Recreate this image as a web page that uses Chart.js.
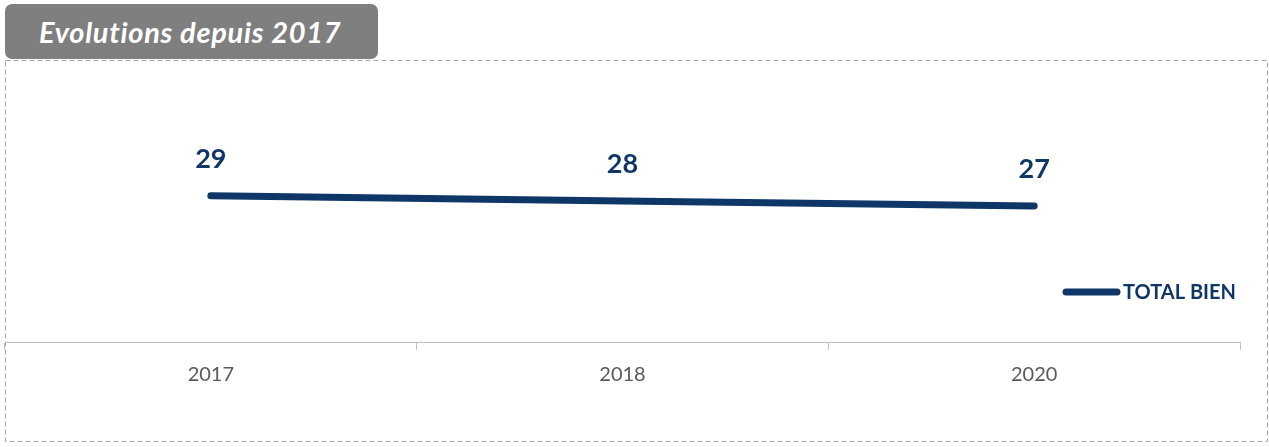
<!DOCTYPE html>
<html>
<head>
<meta charset="utf-8">
<script src="https://cdn.jsdelivr.net/npm/chart.js@4/dist/chart.umd.min.js"></script>
<style>
  html, body { margin: 0; padding: 0; background: #fff; }
  body { width: 1269px; height: 447px; position: relative; overflow: hidden; font-family: Lato, "Open Sans", sans-serif; }
  .title {
    position: absolute; left: 5px; top: 4px; width: 373px; height: 55px;
    background: #7f7f7f; border-radius: 7px; color: #fff; z-index: 2;
    font: italic bold 29px Lato, sans-serif; letter-spacing: 0.7px; line-height: 55px; padding-left: 34px; box-sizing: border-box;
  }
  #chart { position: absolute; left: 0; top: 0; }
</style>
</head>
<body>
<div class="title">Evolutions depuis 2017</div>
<canvas id="chart" width="1269" height="447"></canvas>
<script>
const years = ['2017', '2018', '2020'];
const totalBien = [29, 28, 27];
const seriesName = 'TOTAL BIEN';

const navy = '#0e3767';

// dashed frame round the whole chart
const frame = {
  id: 'frame',
  beforeDraw(chart) {
    const ctx = chart.ctx;
    ctx.save();
    ctx.strokeStyle = '#a6a6a6';
    ctx.lineWidth = 1;
    ctx.setLineDash([5, 3]);
    ctx.strokeRect(5.5, 60.5, 1262, 381);
    ctx.restore();
  }
};

// value labels above each point
const valueLabels = {
  id: 'valueLabels',
  afterDatasetsDraw(chart) {
    const ctx = chart.ctx;
    const meta = chart.getDatasetMeta(0);
    ctx.save();
    ctx.fillStyle = navy;
    ctx.font = 'bold 27px Lato, sans-serif';
    ctx.textAlign = 'center';
    ctx.textBaseline = 'middle';
    meta.data.forEach((pt, i) => {
      ctx.fillText(chart.data.datasets[0].data[i], pt.x, pt.y - 37);
    });
    ctx.restore();
  }
};

// legend drawn inside the plot like the original
const lineLegend = {
  id: 'lineLegend',
  afterDraw(chart) {
    const ctx = chart.ctx;
    const ds = chart.data.datasets[0];
    ctx.save();
    ctx.strokeStyle = ds.borderColor;
    ctx.lineWidth = 7;
    ctx.lineCap = 'round';
    ctx.beginPath();
    ctx.moveTo(1066, 292);
    ctx.lineTo(1117, 292);
    ctx.stroke();
    ctx.fillStyle = navy;
    ctx.font = 'bold 20px Lato, sans-serif';
    ctx.textBaseline = 'middle';
    ctx.fillText(ds.label, 1123, 293);
    ctx.restore();
  }
};

new Chart(document.getElementById('chart'), {
  type: 'line',
  data: {
    labels: years,
    datasets: [{
      label: seriesName,
      data: totalBien,
      borderColor: navy,
      borderWidth: 7,
      borderCapStyle: 'round',
      pointRadius: 0,
      tension: 0
    }]
  },
  options: {
    responsive: false,
    animation: false,
    layout: { padding: { left: 5, right: 29, top: 90, bottom: 0 } },
    plugins: { legend: { display: false }, tooltip: { enabled: false } },
    scales: {
      x: {
        offset: true,
        border: { color: '#bfbfbf', width: 1 },
        grid: { offset: true, drawOnChartArea: false, tickLength: 8, color: '#bfbfbf' },
        ticks: { color: '#595959', font: { size: 20, family: 'Lato, sans-serif' }, padding: 13 },
        afterFit(scale) { scale.height = 105; }
      },
      y: { display: false, min: 0, max: 50 }
    }
  },
  plugins: [frame, valueLabels, lineLegend]
});
</script>
</body>
</html>
